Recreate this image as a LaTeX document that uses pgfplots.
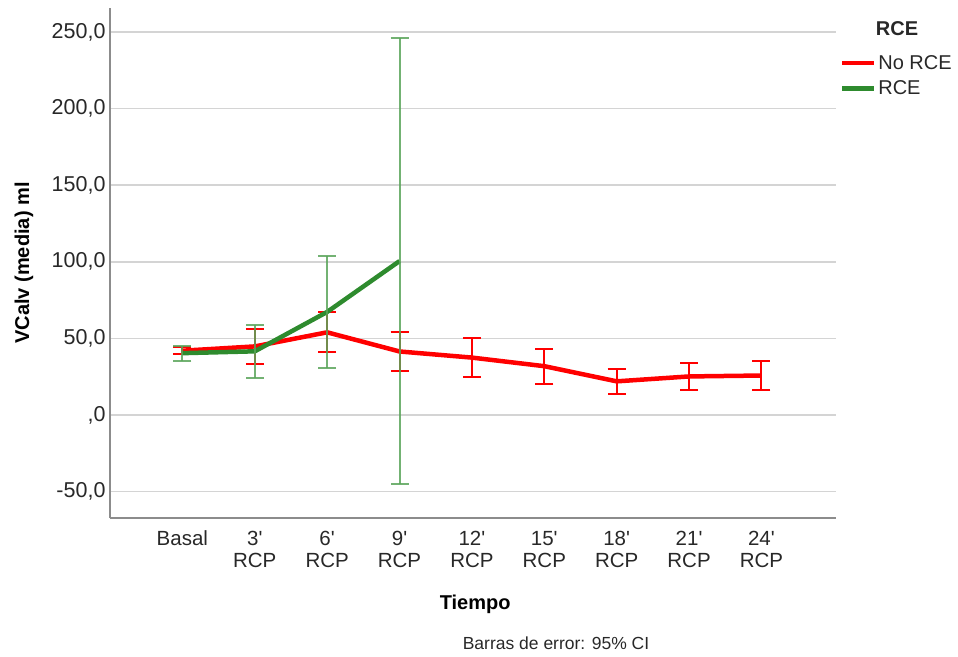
\documentclass[border=0pt]{standalone}
\usepackage{pgfplots}
\pgfplotsset{compat=1.18}
\usepackage{pgfplotstable}
\usepackage{fontspec}
\setmainfont{Liberation Sans}
\definecolor{spssgreen}{RGB}{46,139,46}
\definecolor{spssgreenerr}{RGB}{90,165,90}
\definecolor{gridgray}{RGB}{212,212,212}
\definecolor{axisgray}{RGB}{140,140,140}
\definecolor{txtgray}{RGB}{40,40,40}
\newcommand{\q}{\textquotesingle}

\pgfplotstableread{
x y e
0 42.0 2.4
1 44.8 11.3
2 54.0 13.0
3 41.5 12.9
4 37.5 12.7
5 31.9 11.4
6 22.0 8.0
7 25.2 8.9
8 25.8 9.2
}\norce
\pgfplotstableread{
x y e
0 40.4 4.8
1 41.6 17.2
2 67.3 36.5
3 100.5 145.3
}\rce

\begin{document}
\begin{tikzpicture}
\useasboundingbox (0pt,0pt) rectangle (958pt,656pt);
\begin{axis}[
  at={(110pt,138pt)}, anchor=south west,
  width=726pt, height=510pt, scale only axis,
  xmin=-1, xmax=9.03,
  ymin=-67.2, ymax=265.7,
  axis x line*=bottom, axis y line*=left,
  axis line style={axisgray, line width=1.6pt, -},
  xtick={0,...,8},
  xticklabels={{\strut Basal},{\strut 3\q\\RCP},{\strut 6\q\\RCP},{\strut 9\q\\RCP},{\strut 12\q\\RCP},{\strut 15\q\\RCP},{\strut 18\q\\RCP},{\strut 21\q\\RCP},{\strut 24\q\\RCP}},
  xticklabel style={align=center, font=\fontsize{20.5}{22}\selectfont, text=txtgray, yshift=-9pt},
  ytick={-50,0,50,100,150,200,250},
  yticklabels={{-50,0},{,0},{50,0},{100,0},{150,0},{200,0},{250,0}},
  yticklabel style={font=\fontsize{21.5}{22}\selectfont, text=txtgray, xshift=-1pt},
  major tick length=0pt,
  ymajorgrids, grid style={gridgray, line width=1.6pt},
  xlabel={\textbf{Tiempo}},
  xlabel style={font=\fontsize{20}{24}\selectfont, at={(axis description cs:0.503,0)}, anchor=center, yshift=-86pt},
  ylabel={\textbf{VCalv (media) ml}},
  ylabel style={font=\fontsize{20}{24}\selectfont, at={(axis description cs:-0.1185,0.5)}, anchor=center},
  legend style={at={(axis description cs:1.005,0.912)}, anchor=north west, draw=none, fill=none,
    font=\fontsize{20}{22}\selectfont, text=txtgray, inner sep=0pt, row sep=6pt,
    legend cell align=left},
  legend image code/.code={\draw[#1, line width=4.5pt] (0pt,0pt) -- (32pt,0pt);},
  clip=false,
]
\addplot[red, line width=4.5pt,
  error bars/.cd, y dir=both, y explicit,
  error bar style={red, line width=2pt},
  error mark options={rotate=90, mark size=9pt, line width=2pt, red}]
  table[x=x, y=y, y error=e]{\norce};
\addlegendentry{No RCE}
\addplot[spssgreen, line width=4.5pt,
  error bars/.cd, y dir=both, y explicit,
  error bar style={spssgreenerr, line width=2pt, opacity=0.85},
  error mark options={rotate=90, mark size=9pt, line width=2pt, spssgreenerr, opacity=0.85}]
  table[x=x, y=y, y error=e]{\rce};
\addlegendentry{RCE}
\end{axis}
\node[font=\fontsize{20}{22}\selectfont\bfseries, text=txtgray] at (897pt,627pt) {RCE};
\node[font=\fontsize{17.5}{20}\selectfont, text=txtgray] at (556pt,13pt) {Barras de error: 95\% CI};
\end{tikzpicture}
\end{document}
